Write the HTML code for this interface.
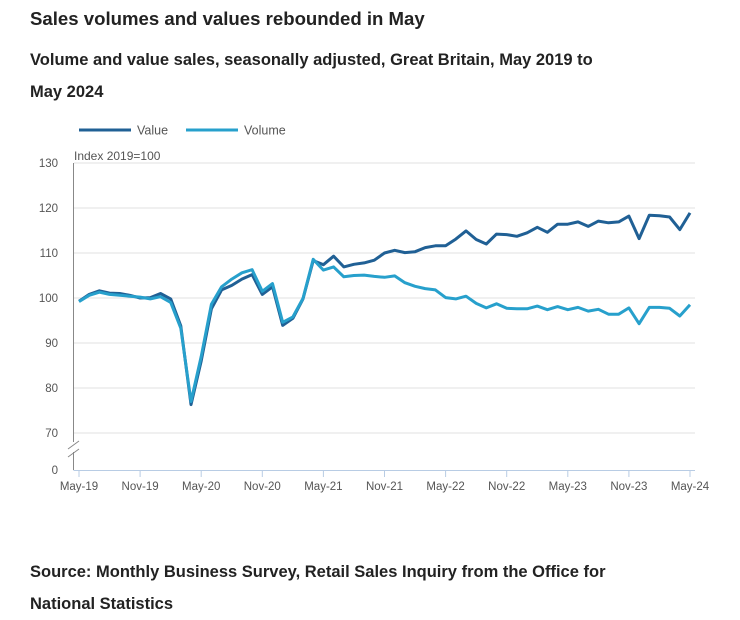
<!DOCTYPE html>
<html><head><meta charset="utf-8"><style>
body{margin:0;width:740px;height:615px;background:#fff;font-family:"Liberation Sans",sans-serif;overflow:hidden}
.t{position:absolute;left:30px;font-weight:bold;color:#222}
</style></head><body>
<div class="t" style="top:8px;font-size:18.6px">Sales volumes and values rebounded in May</div>
<div class="t" style="top:44px;font-size:16.5px;line-height:32px;width:580px">Volume and value sales, seasonally adjusted, Great Britain, May 2019 to May 2024</div>
<div class="t" style="top:556px;font-size:16.5px;line-height:32px;width:620px">Source: Monthly Business Survey, Retail Sales Inquiry from the Office for National Statistics</div>
<svg id="c" width="740" height="615" style="position:absolute;left:0;top:0"></svg>
<script>
const valueSeries=[99.3,100.8,101.6,101.1,101.0,100.6,100.0,100.1,101.0,99.8,93.8,76.3,86.0,97.6,101.8,102.8,104.2,105.2,100.8,102.5,93.9,95.5,99.8,108.3,107.4,109.3,106.9,107.5,107.8,108.4,110.0,110.6,110.1,110.3,111.2,111.6,111.6,113.1,114.9,113.0,112.0,114.2,114.1,113.7,114.5,115.7,114.6,116.4,116.4,116.9,115.9,117.1,116.7,116.9,118.2,113.2,118.4,118.3,118.0,115.2,118.9];
const volumeSeries=[99.2,100.6,101.3,100.8,100.6,100.4,100.2,99.8,100.3,99.0,93.3,77.0,87.0,98.6,102.5,104.2,105.6,106.3,101.5,103.2,94.6,95.8,99.9,108.6,106.2,106.9,104.7,105.0,105.1,104.8,104.6,104.9,103.4,102.6,102.1,101.8,100.1,99.8,100.4,98.8,97.8,98.7,97.7,97.6,97.6,98.2,97.4,98.1,97.4,97.9,97.1,97.5,96.4,96.4,97.8,94.3,97.9,97.9,97.7,96.0,98.5];
const yTicks=[70,80,90,100,110,120,130];
const xTickLabels=["May-19","Nov-19","May-20","Nov-20","May-21","Nov-21","May-22","Nov-22","May-23","Nov-23","May-24"];
const NS="http://www.w3.org/2000/svg",svg=document.getElementById('c');
const x=i=>79+i*(611/60), y=v=>298-(v-100)*4.5;
function mk(t,a,txt){const e=document.createElementNS(NS,t);for(const k in a)e.setAttribute(k,a[k]);if(txt!=null)e.textContent=txt;svg.appendChild(e);return e;}
yTicks.forEach(v=>{
 const g=mk('line',{x1:74,x2:695,y1:y(v),y2:y(v),stroke:'#e0e0e0','stroke-width':1});
 
 
 const l=mk('text',{x:58,y:y(v)+4,'text-anchor':'end','font-size':11.5,fill:'#555'},v);
 
 
});
const z=mk('text',{x:58,y:474,'text-anchor':'end','font-size':11.5,fill:'#555'},'0');


const ya=mk('line',{x1:73.5,x2:73.5,y1:163,y2:470,stroke:'#888','stroke-width':1});


mk('rect',{x:70,y:442,width:8,height:10,fill:'#fff'});
const br=mk('path',{d:'M68,449 L79,441 M68,457 L79,449',stroke:'#888','stroke-width':1,fill:'none'});


const xa=mk('line',{x1:73.5,x2:695,y1:470.5,y2:470.5,stroke:'#b8cce4','stroke-width':1});


xTickLabels.forEach((s,k)=>{
 const xi=x(k*6);
 const t=mk('line',{x1:xi,x2:xi,y1:470,y2:477,stroke:'#b8cce4'});
 
 
 const l=mk('text',{x:xi,y:490,'text-anchor':'middle','font-size':11.5,fill:'#555'},s);
 
 
});
const yt=mk('text',{x:74,y:160,'font-size':12,fill:'#555'},'Index 2019=100');


function line(d,col,name){const p=mk('path',{d:d.map((v,i)=>(i?'L':'M')+x(i).toFixed(1)+','+y(v).toFixed(1)).join(''),stroke:col,'stroke-width':3,fill:'none','stroke-linejoin':'round'});
 
 }
line(valueSeries,'#206095','value-line');
line(volumeSeries,'#27a0cc','volume-line');
[['Value','#206095',79],['Volume','#27a0cc',186]].forEach(([n,c,lx])=>{
 const s=mk('line',{x1:lx,x2:lx+52,y1:130,y2:130,stroke:c,'stroke-width':3});
 
 
 const t=mk('text',{x:lx+58,y:134.5,'font-size':12.5,fill:'#555'},n);
 
 
});
</script>
</body></html>
